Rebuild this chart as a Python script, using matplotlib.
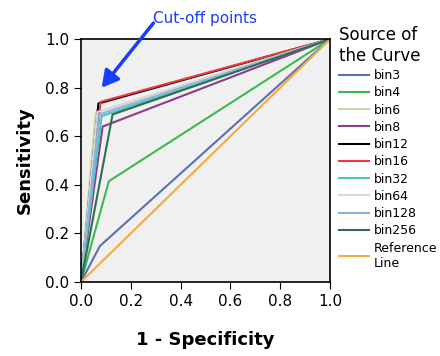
import matplotlib.pyplot as plt
import numpy as np

# ROC curves, each with one cut-off point between (0,0) and (1,1)
names = ['bin3', 'bin4', 'bin6', 'bin8', 'bin12', 'bin16',
         'bin32', 'bin64', 'bin128', 'bin256']
cut_fpr = [0.076, 0.112, 0.059, 0.087, 0.070, 0.079, 0.083, 0.066, 0.074, 0.127]
cut_tpr = [0.148, 0.415, 0.697, 0.640, 0.735, 0.742, 0.683, 0.700, 0.690, 0.690]
colors = ['#5b6fb4', '#3dba4f', '#d6d1a1', '#8b3c8c', '#000000', '#ee3a3e',
          '#4cc4c6', '#d8d8d8', '#8ab6de', '#2f6e4c']

fig = plt.figure(figsize=(4.40, 3.56), dpi=100)
ax = fig.add_axes([0.184, 0.208, 0.566, 0.682])
ax.set_facecolor('#f0f0f0')

for n, fx, ty, c in zip(names, cut_fpr, cut_tpr, colors):
    ax.plot([0, fx, 1], [0, ty, 1], color=c, lw=1.5, label=n)
ax.plot([0, 1], [0, 1], color='#f7a93b', lw=1.5, label='Reference\nLine')

ax.set_xlim(0, 1)
ax.set_ylim(0, 1.0)
ticks = np.arange(0, 1.01, 0.2)
ax.set_xticks(ticks)
ax.set_yticks(ticks)
ax.set_xticklabels(['%.1f' % t for t in ticks], fontsize=11)
ax.set_yticklabels(['%.1f' % t for t in ticks], fontsize=11)
ax.tick_params(direction='out', length=5)
for s in ax.spines.values():
    s.set_linewidth(1.2)
ax.set_xlabel('1 - Specificity', fontsize=13, fontweight='bold', labelpad=16)
ax.set_ylabel('Sensitivity', fontsize=13, fontweight='bold', labelpad=8)

ax.annotate('Cut-off points', xy=(0.083, 0.80), xytext=(0.50, 1.085),
            textcoords='data', color='#1a3cff', fontsize=11, ha='center',
            va='center', annotation_clip=False,
            arrowprops=dict(arrowstyle='-|>,head_width=0.5,head_length=0.9',
                            color='#1a3cff', lw=2.5, shrinkA=0, shrinkB=0,
                            patchA=None, relpos=(0.0, 0.2)))

leg = ax.legend(loc='upper left', bbox_to_anchor=(1.015, 1.075), frameon=False,
                fontsize=9, handlelength=2.4, handletextpad=0.4,
                labelspacing=0.34, borderaxespad=0)
leg.set_title('Source of\nthe Curve', prop={'size': 12})
leg._legend_box.align = 'left'

fig.savefig('out.png', dpi=100)
